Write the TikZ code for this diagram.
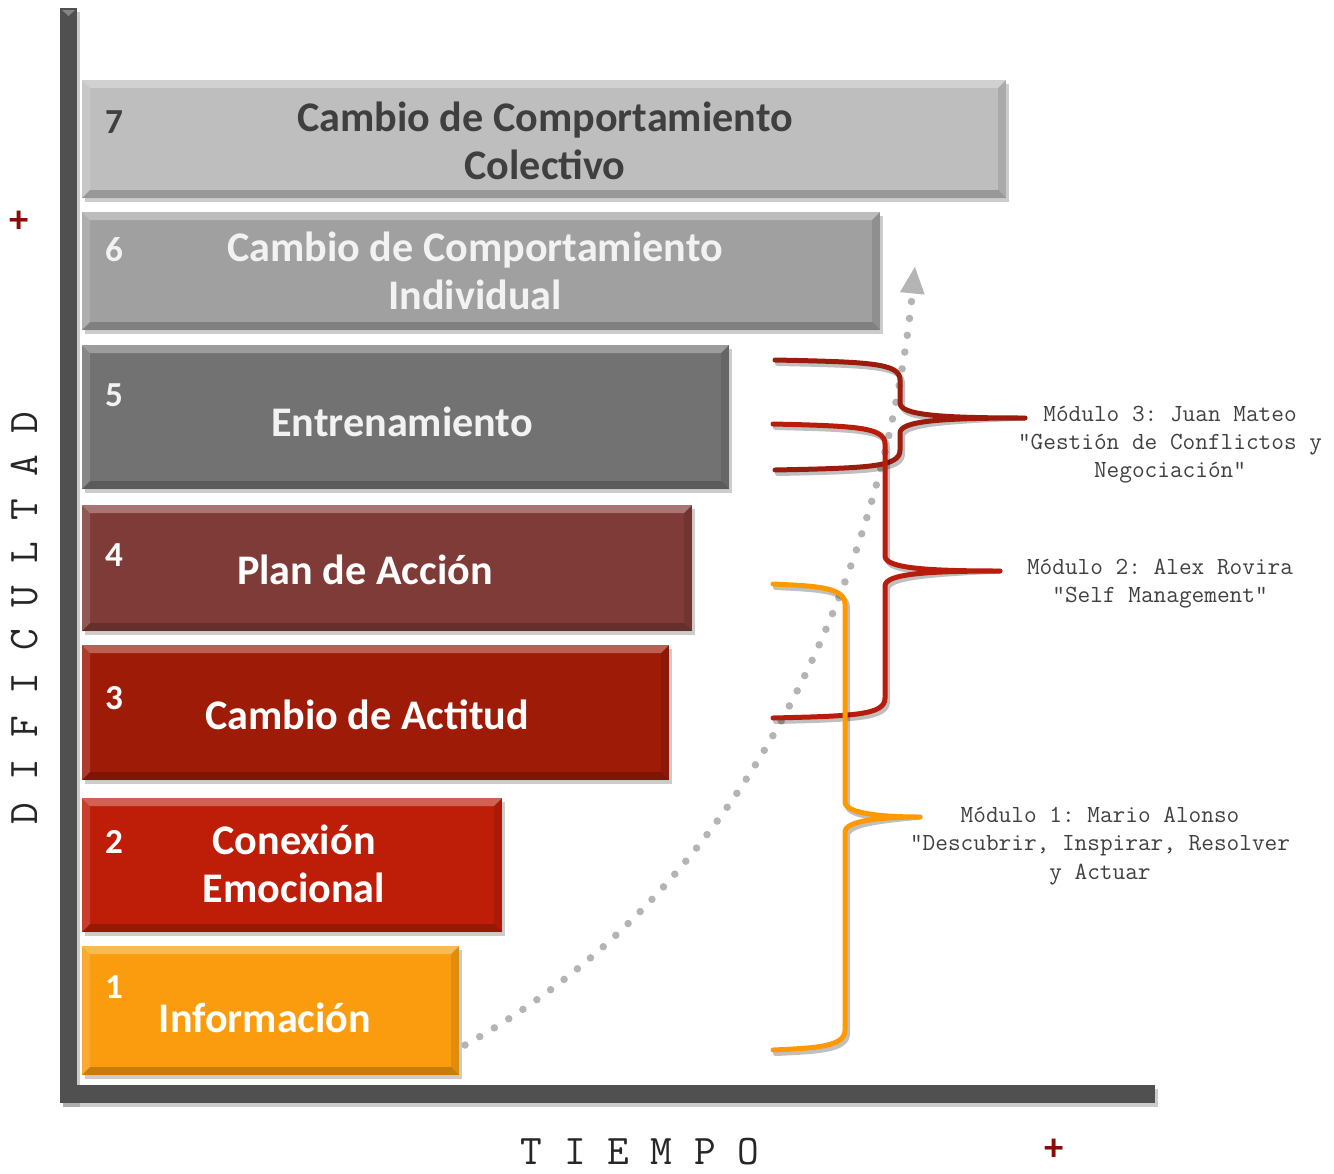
\documentclass[tikz,border=0pt]{standalone}
\usepackage{fontspec}
\newfontfamily\barfont{Carlito}
\usetikzlibrary{arrows.meta,shadows}

\definecolor{barone}{HTML}{FA9C0E}
\definecolor{bartwo}{HTML}{BE1E08}
\definecolor{barthree}{HTML}{9E1B08}
\definecolor{barfour}{HTML}{7F3B37}
\definecolor{barfive}{HTML}{727272}
\definecolor{barsix}{HTML}{A0A0A0}
\definecolor{barseven}{HTML}{BEBEBE}
\definecolor{darktext}{HTML}{3F3F3F}
\definecolor{lighttext}{HTML}{F2F2F2}
\definecolor{axisgray}{HTML}{505050}
\definecolor{dotgray}{HTML}{B4B4B4}
\definecolor{modone}{HTML}{FF9900}
\definecolor{modtwo}{HTML}{B91C0A}
\definecolor{modthree}{HTML}{9B1B0C}
\definecolor{modgray}{HTML}{404040}
\definecolor{plusred}{HTML}{8B0A0A}

\tikzset{
  bar/.style={drop shadow={opacity=0.4,shadow xshift=0.06cm,shadow yshift=-0.08cm}},
  bartext/.style={font=\barfont\bfseries\fontsize{24}{27}\selectfont, align=center},
  barnum/.style={font=\barfont\bfseries\fontsize{20}{24}\selectfont},
  modtext/.style={font=\ttfamily\frenchspacing\fontsize{14}{16}\selectfont, align=center, text=modgray},
  axislabel/.style={font=\ttfamily\fontsize{24}{24}\selectfont, text=black!85},
  plussign/.style={font=\barfont\bfseries\fontsize{22}{22}\selectfont, text=plusred, inner sep=1pt},
  brace/.style={line width=0.1cm, line cap=round, line join=round},
  trend/.style={dotgray, line width=0.15cm, line cap=round, dash pattern=on 0pt off 0.34cm,
    -{Triangle[length=0.55cm,width=0.45cm]}}
}

\begin{document}
\begin{tikzpicture}[x=0.02cm, y=-0.02cm]
	\useasboundingbox (0,0) rectangle (1334,1173);

	% axes
	\fill[axisgray, bar] (60,8) rectangle (77,1103);
	\fill[axisgray, bar] (60,1085) rectangle (1155,1103);
	\fill[white, opacity=0.3] (62,10) -- (75,10) -- (68.5,16) -- cycle;

	% levels
	\foreach \n/\ya/\yb/\xb/\col/\tcol/\ny/\tx/\ty/\txt in {
		7/80/198/1006/barseven/darktext/122/545/141/{Cambio de Comportamiento\\Colectivo},
		6/212/330/880/barsix/lighttext/250/475/271/{Cambio de Comportamiento\\Individual},
		5/345/489/729/barfive/lighttext/395/402/422/{Entrenamiento},
		4/505/631/692/barfour/white/555/365/570/{Plan de Acción},
		3/645/780/669/barthree/white/698/367/715/{Cambio de Actitud},
		2/798/932/502/bartwo/white/842/294/864/{Conexión\\Emocional},
		1/946/1075/459/barone/white/987/265/1018/{Información}}{
		\fill[bar, fill=\col] (82,\ya) rectangle (\xb,\yb);
		\fill[white, opacity=0.3] (82,\ya) -- (\xb,\ya) -- (\xb-8,\ya+8) -- (90,\ya+8) -- cycle;
		\fill[white, opacity=0.15] (82,\ya) -- (90,\ya+8) -- (90,\yb-8) -- (82,\yb) -- cycle;
		\fill[black, opacity=0.2] (82,\yb) -- (90,\yb-8) -- (\xb-8,\yb-8) -- (\xb,\yb) -- cycle;
		\fill[black, opacity=0.1] (\xb,\ya) -- (\xb,\yb) -- (\xb-8,\yb-8) -- (\xb-8,\ya+8) -- cycle;
		\node[barnum, text=\tcol] (num\n) at (114,\ny) {\n};
		\node[bartext, text=\tcol] (lvl\n) at (\tx,\ty) {\txt};
	}

	% trend
	\coordinate (tstart) at (465,1045);
	\coordinate (tend) at (915,266);
	\draw[trend] (tstart) .. controls (780,870) and (890,520) .. (tend);

	% modules
	\node[modtext] (mod3) at (1170,445) {Módulo 3: Juan Mateo\\“Gestión de Conflictos y\\Negociación”};
	\node[modtext] (mod2) at (1160,584) {Módulo 2: Alex Rovira\\“Self Management”};
	\node[modtext] (mod1) at (1100,846) {Módulo 1: Mario Alonso\\“Descubrir, Inspirar, Resolver\\y Actuar};
	\coordinate (tip3) at (1025,418);
	\coordinate (tip2) at (1000,571);
	\coordinate (tip1) at (920,817);

	\foreach \a/\ya/\yb/\s/\m/\t/\col in {
		775/360/470/900/418/tip3/modthree,
		773/424/718/885/571/tip2/modtwo,
		773/584/1050/845/817/tip1/modone}{
		\draw[brace, black, opacity=0.25, xshift=0.05cm, yshift=-0.07cm] (\a,\ya) .. controls (\s-30,\ya+2) and (\s,\ya+3) .. (\s,\ya+20)
			-- (\s,\m-15) .. controls (\s,\m-3) and (\s+40,\m) .. (\t)
			.. controls (\s+40,\m) and (\s,\m+3) .. (\s,\m+15)
			-- (\s,\yb-20) .. controls (\s,\yb-3) and (\s-30,\yb-2) .. (\a,\yb);
		\draw[brace, \col] (\a,\ya) .. controls (\s-30,\ya+2) and (\s,\ya+3) .. (\s,\ya+20)
			-- (\s,\m-15) .. controls (\s,\m-3) and (\s+40,\m) .. (\t)
			.. controls (\s+40,\m) and (\s,\m+3) .. (\s,\m+15)
			-- (\s,\yb-20) .. controls (\s,\yb-3) and (\s-30,\yb-2) .. (\a,\yb);
	}

	% axis labels
	\node[axislabel, rotate=90] (ylab) at (25,618) {D I F I C U L T A D};
	\node[axislabel] (xlab) at (640,1152) {T I E M P O};
	\node[plussign] (yplus) at (19,222) {+};
	\node[plussign] (xplus) at (1054,1150) {+};
\end{tikzpicture}
\end{document}
